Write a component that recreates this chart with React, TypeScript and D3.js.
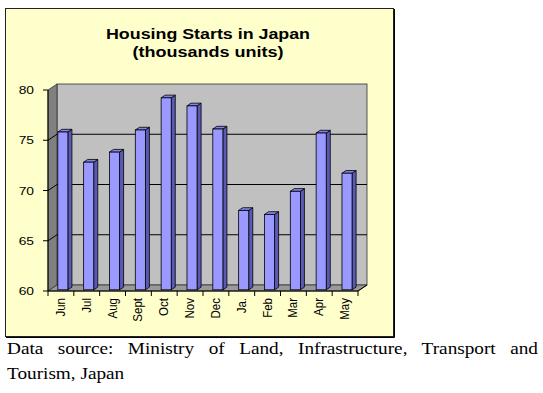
import React, { useEffect, useRef } from 'react'
import * as d3 from 'd3'

// monthly housing starts, thousands of units
const months = ['Jun', 'Jul', 'Aug', 'Sept', 'Oct', 'Nov', 'Dec', 'Ja.', 'Feb', 'Mar', 'Apr', 'May']
const starts = [75.7, 72.7, 73.7, 75.9, 79.1, 78.3, 76.0, 67.9, 67.5, 69.8, 75.6, 71.6]
const yTicks = [60, 65, 70, 75, 80]
const titleLines = ['Housing Starts in Japan', '(thousands units)']
const captionLines = ['Data source: Ministry of Land, Infrastructure, Transport and', 'Tourism, Japan']

const W = 543
const H = 393

export default function App() {
  const ref = useRef<SVGSVGElement>(null)

  useEffect(() => {
    const svg = d3.select(ref.current)
    svg.selectAll('*').remove()

    const sans = 'Liberation Sans, Arial, sans-serif'
    const serif = 'Liberation Serif, Times New Roman, serif'

    // chart frame
    svg.append('rect')
      .attr('x', 5.5).attr('y', 8.5).attr('width', 388).attr('height', 328)
      .attr('fill', '#FFFFCC').attr('stroke', '#222').attr('stroke-width', 1)
    svg.append('path')
      .attr('d', 'M394.5,9V337.5H6')
      .attr('fill', 'none').attr('stroke', '#000').attr('stroke-width', 1)

    // title
    const titleWidths = [204, 151]
    const titleY = [39, 57]
    titleLines.forEach((t, i) => {
      svg.append('text')
        .attr('x', 208).attr('y', titleY[i])
        .attr('text-anchor', 'middle')
        .attr('font-family', sans).attr('font-weight', 'bold').attr('font-size', 14)
        .attr('textLength', titleWidths[i]).attr('lengthAdjust', 'spacingAndGlyphs')
        .attr('fill', '#000')
        .text(t)
    })

    // 3d plot box: front face + depth offset
    const left = 48, right = 358, bottom = 291
    const dx = 9, dy = -6

    const x = d3.scaleBand<string>().domain(months).range([left, right]).paddingInner(0).paddingOuter(0)
    const y = d3.scaleLinear().domain([60, 80]).range([bottom, 90])

    const g = svg.append('g')

    // back wall
    g.append('rect')
      .attr('x', left + dx).attr('y', y(80) + dy)
      .attr('width', right - left).attr('height', y(60) - y(80))
      .attr('fill', '#C0C0C0').attr('stroke', '#333').attr('stroke-width', 0.8)
    // side wall
    g.append('path')
      .attr('d', `M${left},${y(80)}L${left + dx},${y(80) + dy}L${left + dx},${y(60) + dy}L${left},${y(60)}Z`)
      .attr('fill', '#808080').attr('stroke', '#333').attr('stroke-width', 0.8)
    // floor
    g.append('path')
      .attr('d', `M${left},${bottom}L${left + dx},${bottom + dy}L${right + dx},${bottom + dy}L${right},${bottom}Z`)
      .attr('fill', '#999999').attr('stroke', '#333').attr('stroke-width', 0.8)

    // gridlines on back and side walls
    yTicks.filter(t => t > 60 && t < 80).forEach(t => {
      g.append('path')
        .attr('d', `M${left},${y(t)}L${left + dx},${y(t) + dy}L${right + dx},${y(t) + dy}`)
        .attr('fill', 'none').attr('stroke', '#000').attr('stroke-width', 1)
    })

    // bars
    const bw = x.bandwidth()
    const f0 = 0.2, f1 = 0.65
    const ox = dx * f0, oy = dy * f0
    const sx = dx * (f1 - f0), sy = dy * (f1 - f0)
    const barW = bw * 0.39
    const bars = g.append('g').selectAll('g')
      .data(months.map((m, i) => ({ m, v: starts[i] })))
      .enter().append('g')
    bars.each(function (d) {
      const b = d3.select(this)
      const x0 = (x(d.m) as number) + bw * 0.31 + ox
      const x1 = x0 + barW
      const yt = y(d.v) + oy
      const yb = bottom + oy
      // side
      b.append('path')
        .attr('d', `M${x1},${yt}L${x1 + sx},${yt + sy}L${x1 + sx},${yb + sy}L${x1},${yb}Z`)
        .attr('fill', '#5A5AB4').attr('stroke', '#000').attr('stroke-width', 0.8)
      // top
      b.append('path')
        .attr('d', `M${x0},${yt}L${x0 + sx},${yt + sy}L${x1 + sx},${yt + sy}L${x1},${yt}Z`)
        .attr('fill', '#8484E6').attr('stroke', '#000').attr('stroke-width', 0.8)
      // front
      b.append('rect')
        .attr('x', x0).attr('y', yt).attr('width', barW).attr('height', yb - yt)
        .attr('fill', '#9999FF').attr('stroke', '#000').attr('stroke-width', 0.8)
    })

    // axes lines
    g.append('line')
      .attr('x1', left).attr('x2', left).attr('y1', y(80)).attr('y2', bottom)
      .attr('stroke', '#000')
    g.append('line')
      .attr('x1', left).attr('x2', right).attr('y1', bottom).attr('y2', bottom)
      .attr('stroke', '#000')
    g.append('line')
      .attr('x1', right).attr('x2', right + dx).attr('y1', bottom).attr('y2', bottom + dy)
      .attr('stroke', '#000')

    // y ticks + labels
    yTicks.forEach(t => {
      g.append('line')
        .attr('x1', left - 5).attr('x2', left).attr('y1', y(t)).attr('y2', y(t))
        .attr('stroke', '#000')
      g.append('text')
        .attr('transform', `translate(${left - 14},${y(t) + 4}) scale(1.2,1)`)
        .attr('text-anchor', 'end')
        .attr('font-family', sans).attr('font-size', 11.5).attr('fill', '#000')
        .text(String(t))
    })

    // x ticks + labels
    const edges = months.map(m => x(m) as number).concat([right])
    edges.forEach(e => {
      g.append('line')
        .attr('x1', e).attr('x2', e).attr('y1', bottom).attr('y2', bottom + 5)
        .attr('stroke', '#000')
    })
    months.forEach(m => {
      g.append('text')
        .attr('transform', `translate(${(x(m) as number) + bw / 2 + 4},298) scale(1.15,1) rotate(-90)`)
        .attr('text-anchor', 'end')
        .attr('font-family', sans).attr('font-size', 11.5).attr('fill', '#000')
        .text(m)
    })

    // caption, first line justified
    const capScale = 1.1
    const l1 = svg.append('text')
      .attr('transform', `translate(7,354) scale(${capScale},1)`)
      .attr('font-family', serif).attr('font-size', 17.5).attr('fill', '#000')
      .text(captionLines[0])
    const len = (l1.node() as SVGTextElement).getComputedTextLength()
    const spaces = captionLines[0].split(' ').length - 1
    l1.attr('word-spacing', (531 / capScale - len) / spaces)
    svg.append('text')
      .attr('transform', `translate(7,378.5) scale(${capScale},1)`)
      .attr('font-family', serif).attr('font-size', 17.5).attr('fill', '#000')
      .text(captionLines[1])
  }, [])

  return (
    <svg ref={ref} width={W} height={H}
      style={{ position: 'absolute', left: 0, top: 0, background: '#fff' }} />
  )
}
